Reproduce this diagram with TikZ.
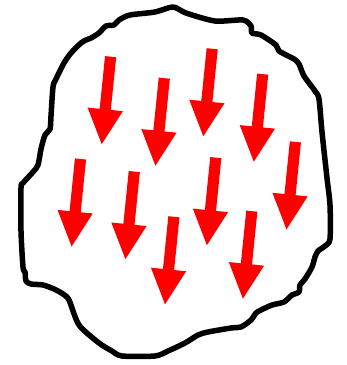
\documentclass[tikz,border=0pt]{standalone}
\begin{document}
\begin{tikzpicture}[x=1pt,y=-1pt,
  outline/.style={draw=black,line width=5.5pt,line join=round,line cap=round},
  redarrow/.pic={\fill[red] (0,0) -- (-17.7,-35) -- (-5.6,-35) -- (-5.6,-88) -- (5.6,-88) -- (5.6,-35) -- (17.7,-35) -- cycle;}]
\useasboundingbox (0,0) rectangle (347,365);
\draw[outline] plot[smooth cycle,tension=0.45] coordinates {
(173,7) (186,13) (215,21) (243,20) (251,26) (252,33) (261,35) (276,45) (279,51) (294,59) (299,64) (304,76) (315,91) (319,99) (322,132) (327,178) (330,205) (330,239) (325,246) (318,251) (315,257) (312,267) (305,279) (300,285) (299,292) (292,295) (284,302) (272,305) (261,310) (256,313) (251,320) (241,327) (231,328) (208,332) (198,335) (185,343) (168,351) (155,356) (122,356) (112,351) (99,343) (79,325) (69,300) (63,294) (54,289) (43,285) (31,284) (26,281) (25,272) (23,267) (21,231) (21,188) (23,183) (33,172) (38,165) (41,149) (45,135) (50,129) (51,116) (53,87) (56,79) (64,63) (71,53) (81,43) (86,40) (91,38) (99,33) (106,26) (114,25) (119,20) (130,15) (155,12)};
\foreach \x/\y in {101.7/144.2,155.4/165.7,203.3/136.3,253.8/161.7,286.5/229.4,71.6/246.5,125.4/259.1,165/304.3,206.9/245.2,242.9/298.7}
  \pic[rotate=-5.8] at (\x,\y) {redarrow};
\end{tikzpicture}
\end{document}
